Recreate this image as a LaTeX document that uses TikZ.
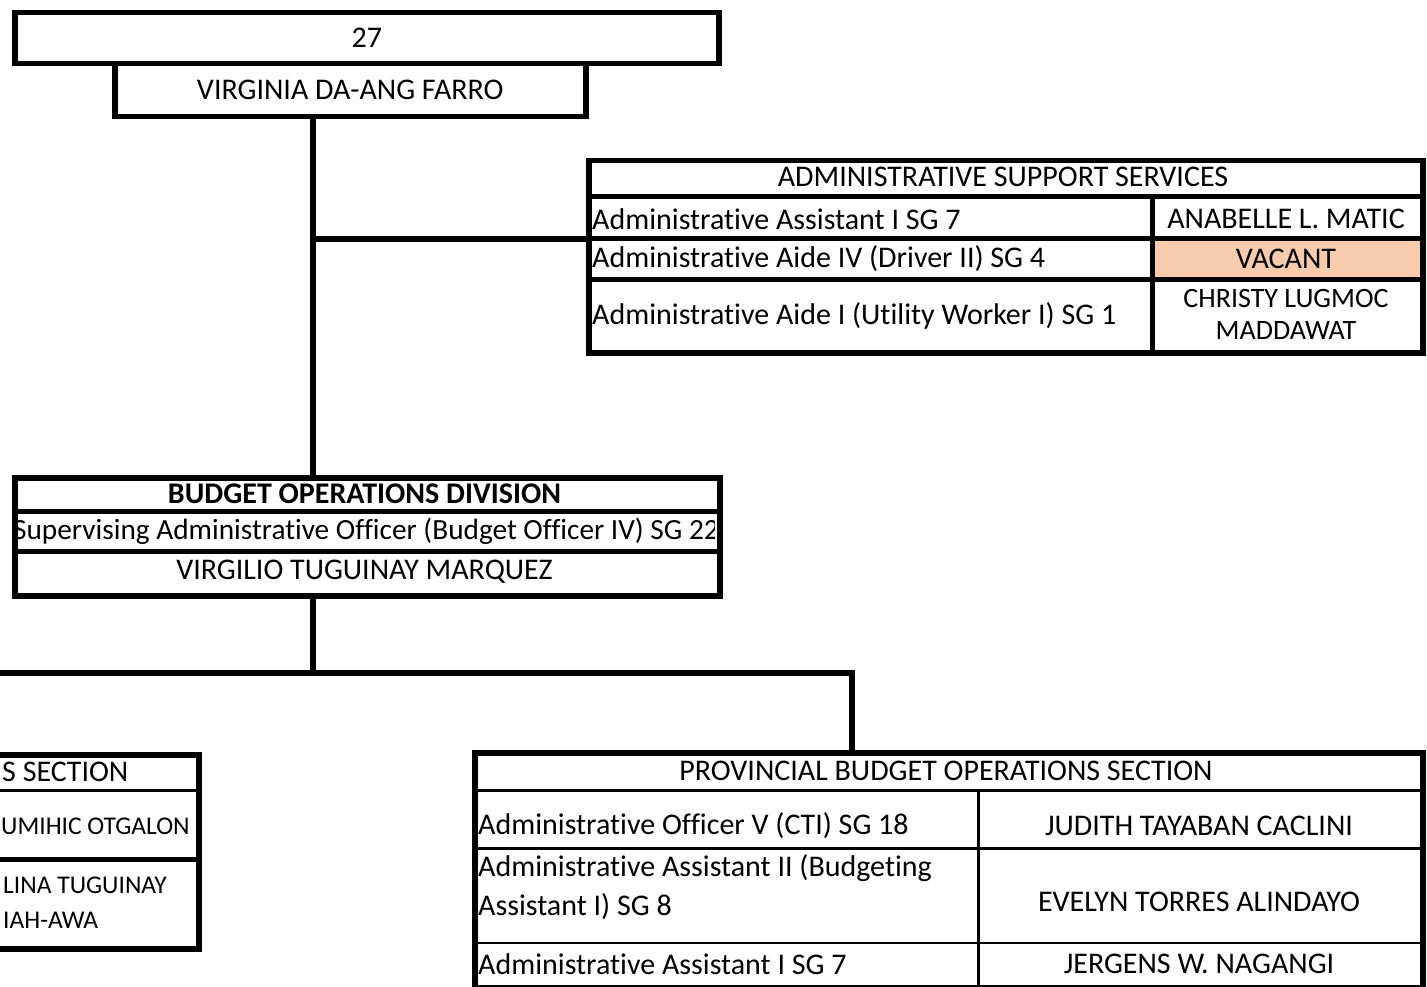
\documentclass[tikz,border=0pt]{standalone}
\usepackage{fontspec}
\setmainfont{Carlito}[Ligatures={NoCommon}]
\usetikzlibrary{positioning}
\definecolor{vacant}{HTML}{F8CBAD}

\begin{document}
\begin{tikzpicture}[x=1pt, y=-1pt,
    frame/.style={draw, line width=5.5pt, rectangle, inner sep=0pt, anchor=north west},
    rule/.style={line width=5pt},
    thinrule/.style={line width=3pt},
    link/.style={line width=6pt},
    txt/.style={inner sep=0pt, font=\fontsize{30}{33}\selectfont},
    small/.style={inner sep=0pt, anchor=west, font=\fontsize{25.5}{34}\selectfont},
    lft/.style={txt, anchor=west, align=left}]
    \useasboundingbox (0,0) rectangle (1427,987);
    \clip (0,0) rectangle (1427,987);

    % Office head
    \node[frame, minimum width=704pt, minimum height=51pt] (unit) at (12,10) {};
    \node[frame, minimum width=471pt, minimum height=53pt] (head) at (112,61) {};
    \node[txt] (unitno) at (unit.center) {27};
    \node[txt] (headname) at (head.center) {VIRGINIA DA-ANG FARRO};

    % Administrative support services
    \fill[vacant] (1152,239) rectangle (1420,279);
    \node[frame, minimum width=834pt, minimum height=192pt] (ass) at (586,158) {};
    \draw[rule] (586,197) -- (1420,197);
    \draw[rule] (586,239) -- (1420,239);
    \draw[rule] (586,279) -- (1420,279);
    \draw[rule] (1152,197) -- (1152,350);
    \node[txt] (asstitle) at (1003,177) {ADMINISTRATIVE SUPPORT SERVICES};
    \node[lft] (asspos1) at (592,219) {Administrative Assistant I SG 7};
    \node[lft] (asspos2) at (592,259) {Administrative Aide IV (Driver II) SG 4};
    \node[lft] (asspos3) at (592,316) {Administrative Aide I (Utility Worker I) SG 1};
    \node[txt] (assname1) at (1286,219) {ANABELLE L. MATIC};
    \node[txt] (assname2) at (1286,259) {VACANT};
    \node[txt, align=center, font=\fontsize{28}{32}\selectfont] (assname3) at (1286,314) {CHRISTY LUGMOC\\MADDAWAT};

    % Budget operations division
    \node[frame, minimum width=705pt, minimum height=118pt] (bod) at (12,475) {};
    \draw[rule] (12,511) -- (717,511);
    \draw[rule] (12,551) -- (717,551);
    \node[txt, font=\fontsize{30}{33}\selectfont\bfseries] (bodtitle) at (364.5,494) {BUDGET OPERATIONS DIVISION};
    \begin{scope}
        \clip (15,514) rectangle (714,548);
        \node[txt, font=\fontsize{29.3}{33}\selectfont] (bodpos) at (366,531) {Supervising Administrative Officer (Budget Officer IV) SG 22};
    \end{scope}
    \node[txt] (bodname) at (364.5,572) {VIRGILIO TUGUINAY MARQUEZ};

    % Section on the left (cut off)
    \node[frame, minimum width=506pt, minimum height=194pt] (lsec) at (-310,752) {};
    \draw[thinrule] (-310,790) -- (196,790);
    \draw[rule] (-310,859) -- (196,859);
    \node[txt, anchor=west] (lsectitle) at (2,772) {S SECTION};
    \node[small] (lsecname1) at (1,826) {UMIHIC OTGALON};
    \node[small] (lsecname2) at (3,885) {LINA TUGUINAY};
    \node[small] (lsecname3) at (3,920) {IAH-AWA};

    % Provincial budget operations section
    \node[frame, minimum width=948pt, minimum height=235pt] (pbos) at (472,750) {};
    \draw[thinrule] (472,790) -- (1420,790);
    \draw[thinrule] (472,848) -- (1420,848);
    \draw[line width=2pt] (472,943) -- (1420,943);
    \draw[thinrule] (978,790) -- (978,985);
    \node[txt] (pbostitle) at (946,771) {PROVINCIAL BUDGET OPERATIONS SECTION};
    \node[lft] (pbospos1) at (478,826) {Administrative Officer V (CTI) SG 18};
    \node[lft, font=\fontsize{30}{39}\selectfont] (pbospos2) at (478,887) {Administrative Assistant II (Budgeting\\Assistant I) SG 8};
    \node[lft] (pbospos3) at (478,964) {Administrative Assistant I SG 7};
    \node[txt] (pbosname1) at (1199,826) {JUDITH TAYABAN CACLINI};
    \node[txt] (pbosname2) at (1199,902) {EVELYN TORRES ALINDAYO};
    \node[txt] (pbosname3) at (1199,964) {JERGENS W. NAGANGI};

    % Connectors
    \coordinate (trunk) at (313,0);
    \coordinate (split) at (313,239);
    \coordinate (bus) at (-10,673);
    \coordinate (drop) at (852,673);
    \draw[link] (head.south -| trunk) -- (bod.north -| trunk);
    \draw[link] (split) -- (split -| ass.west);
    \draw[link] (bod.south -| trunk) -- (trunk |- bus);
    \draw[link] (bus) -- (drop) -- (drop |- pbos.north);

\end{tikzpicture}
\end{document}
